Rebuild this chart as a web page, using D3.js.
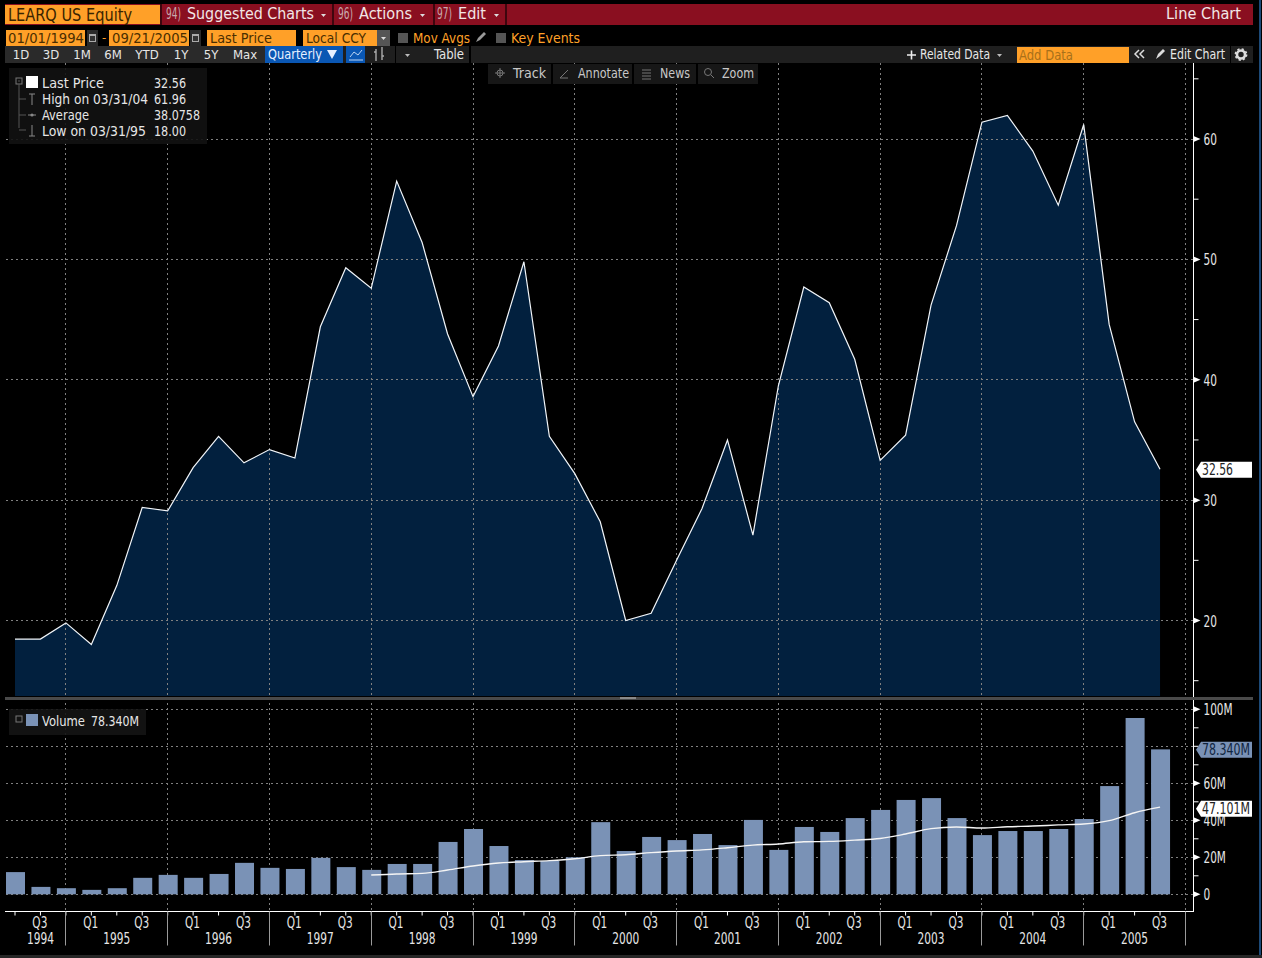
<!DOCTYPE html>
<html><head><meta charset="utf-8">
<script src="https://cdnjs.cloudflare.com/ajax/libs/d3/7.8.5/d3.min.js"></script>
<style>
html,body{margin:0;padding:0;background:#000;overflow:hidden}
svg{display:block}
text{font-family:"Liberation Sans Narrow","DejaVu Sans Condensed","Roboto",sans-serif}
</style></head><body><svg id="c" width="1262" height="958"></svg>
<script>
const quarters = ["1994Q2","1994Q3","1994Q4","1995Q1","1995Q2","1995Q3","1995Q4","1996Q1","1996Q2","1996Q3","1996Q4","1997Q1","1997Q2","1997Q3","1997Q4","1998Q1","1998Q2","1998Q3","1998Q4","1999Q1","1999Q2","1999Q3","1999Q4","2000Q1","2000Q2","2000Q3","2000Q4","2001Q1","2001Q2","2001Q3","2001Q4","2002Q1","2002Q2","2002Q3","2002Q4","2003Q1","2003Q2","2003Q3","2003Q4","2004Q1","2004Q2","2004Q3","2004Q4","2005Q1","2005Q2","2005Q3"];
const axisEndQuarter = "2005Q4";
const priceValues = [18.46,18.46,19.8,18.0,22.9,29.4,29.1,32.7,35.3,33.1,34.2,33.5,44.4,49.3,47.6,56.5,51.4,43.8,38.6,42.8,49.8,35.3,32.2,28.2,20.0,20.6,25.0,29.3,35.0,27.1,39.5,47.7,46.4,41.7,33.3,35.4,46.2,52.8,61.4,61.96,59.0,54.5,61.2,44.6,36.5,32.56];
const volumeValues = [12,4,3.3,2.4,3.3,8.9,10.5,8.9,11,17,14.3,13.7,19.7,14.7,13.2,16.4,16.4,28.3,35.3,26.1,18.5,18,20,39,23.4,31,29.3,32.6,26.6,40.2,24,36.4,33.7,41.2,45.6,51,52,41.2,32,34.2,34.2,35.3,40.7,58.5,95.3,78.34];
const volumeAverage = [null,null,null,null,null,null,null,null,null,null,null,null,null,null,10.4,11,11.3,13.1,15.3,16.9,17.6,18.2,19.2,20.9,21.4,22.5,23.4,24,25.2,26.6,27.2,28.4,28.6,29.3,30.2,32.6,35.5,36.4,35.8,36.5,36.9,37.5,38,39.8,44.1,47.101];
const priceMajorTicks = [20,30,40,50,60];
const priceMinorTicks = [15,25,35,45,55,65];
const volumeMajorTicks = [0,20,40,60,100];
const volumeGridTicks = [0,20,40,60,80,100];
const volumeMinorTicks = [10,30,50,70,80,90];
const years = [1994,1995,1996,1997,1998,1999,2000,2001,2002,2003,2004,2005];

const svg = d3.select("#c");
const COL = {orange:"#ffa028",red:"#8a0f20",grid:"#808080",area:"#02203e",bar:"#7a92b6",white:"#fff",txt:"#e6e6e6",dark:"#1f1f1f"};
function T(g,x,y,s,o={}){const t=g.append("text").attr("x",x).attr("y",y).text(s)
  .attr("fill",o.fill||COL.txt).attr("font-size",o.size||14).attr("text-anchor",o.anchor||"start");
  if(o.w) t.attr("textLength",o.w).attr("lengthAdjust","spacingAndGlyphs");return t;}
function R(g,x,y,w,h,f){return g.append("rect").attr("x",x).attr("y",y).attr("width",w).attr("height",h).attr("fill",f);}
function Tri(g,x,y,f){return g.append("path").attr("d",`M${x},${y}h5l-2.5,3z`).attr("fill",f||"#ccc");}

const x = d3.scalePoint().domain([...quarters,axisEndQuarter]).range([15,1185.5]);
const yP = d3.scaleLinear().domain([20,60]).range([620.5,139]);
const yV = d3.scaleLinear().domain([0,100]).range([894.3,709.3]);
const PANE_BOTTOM = 696;
const rows = quarters.map((q,i)=>({q,p:priceValues[i],v:volumeValues[i],a:volumeAverage[i]}));
const snap = v => Math.floor(v)+.5;

/* price area */
svg.append("path").datum(rows).attr("fill",COL.area)
  .attr("d",d3.area().x(d=>x(d.q)).y0(PANE_BOTTOM).y1(d=>yP(d.p)));

/* grid */
const grid = svg.append("g").attr("stroke",COL.grid).attr("stroke-width",1).attr("stroke-dasharray","2,3");
const yearEnds = [...quarters,axisEndQuarter].filter(q=>q.endsWith("Q4"));
grid.selectAll(".v").data(yearEnds).join("line").attr("x1",d=>snap(x(d))).attr("x2",d=>snap(x(d))).attr("y1",63).attr("y2",911);
grid.selectAll(".hp").data(priceMajorTicks).join("line").attr("x1",6).attr("x2",1193).attr("y1",d=>snap(yP(d))).attr("y2",d=>snap(yP(d)));
grid.selectAll(".hv").data(volumeGridTicks).join("line").attr("x1",6).attr("x2",1193).attr("y1",d=>snap(yV(d))).attr("y2",d=>snap(yV(d)));

/* price line */
svg.append("path").datum(rows).attr("fill","none").attr("stroke","#f2f6fa").attr("stroke-width",1.2)
  .attr("d",d3.line().x(d=>x(d.q)).y(d=>yP(d.p)));

/* volume */
svg.append("g").selectAll("rect").data(rows).join("rect")
  .attr("x",d=>x(d.q)-9).attr("width",19).attr("y",d=>yV(d.v)).attr("height",d=>yV(0)-yV(d.v)).attr("fill",COL.bar);
svg.append("path").datum(rows).attr("fill","none").attr("stroke","#f4f4f4").attr("stroke-width",1.4)
  .attr("d",d3.line().defined(d=>d.a!=null).curve(d3.curveMonotoneX).x(d=>x(d.q)).y(d=>yV(d.a)));

/* separator */
R(svg,5,697,1248,3,"#4a4a4a");
R(svg,620,697,16,2,"#8a8a8a");

/* right axes */
function labelWidth(s){return String(s).split("").reduce((a,c)=>a+(c==="M"?9:6.7),0);}
function rightAxis(scale,major,minor,fmt,y0,y1,dy){
  const g = svg.append("g").attr("transform","translate(1193.5,0)");
  g.append("line").attr("y1",y0).attr("y2",y1).attr("stroke","#fff").attr("stroke-width",1);
  g.selectAll(".m").data(minor).join("line").attr("x2",5).attr("y1",d=>scale(d)).attr("y2",d=>scale(d)).attr("stroke","#fff");
  g.selectAll(".t").data(major).join("path").attr("fill","#fff")
    .attr("d",d=>`M0,${scale(d)-3}L7,${scale(d)}L0,${scale(d)+3}Z`);
  g.selectAll(".l").data(major).join("text").attr("x",10).attr("y",d=>scale(d)+dy)
    .attr("fill",COL.txt).attr("font-size",16).text(fmt)
    .attr("textLength",d=>labelWidth(fmt(d))).attr("lengthAdjust","spacingAndGlyphs");
}
rightAxis(yP,priceMajorTicks,priceMinorTicks,d=>d,63,697,6);
rightAxis(yV,volumeMajorTicks,volumeMinorTicks,d=>d===0?"0":d+"M",700,912,6);

function tag(y,w,label,bg,fg){
  const g=svg.append("g");
  g.append("path").attr("d",`M1196,${y}L1201,${y-8}H1252V${y+8}H1201Z`).attr("fill",bg);
  T(g,1202,y+5,label,{fill:fg,size:15,w});
}
tag(yP(32.56)+.5,31,"32.56","#fff","#222");
tag(yV(78.34)+.5,48,"78.340M",COL.bar,"#10253f");
tag(yV(47.101)+1.5,48,"47.101M","#fff","#222");

/* bottom axis */
const ax = svg.append("g").attr("transform","translate(0,911.5)");
ax.append("line").attr("x1",5).attr("x2",1193).attr("stroke","#fff");
ax.selectAll(".qt").data(quarters).join("line").attr("x1",d=>x(d)).attr("x2",d=>x(d)).attr("y2",4).attr("stroke","#fff");
ax.selectAll(".ys").data(yearEnds).join("line").attr("x1",d=>snap(x(d))).attr("x2",d=>snap(x(d))).attr("y2",34).attr("stroke","#9a9a9a");
const qLabels = quarters.filter(q=>q.endsWith("Q1")||q.endsWith("Q3"));
ax.selectAll(".ql").data(qLabels).join("text").attr("x",d=>x(d)-.6).attr("y",16).attr("text-anchor","middle")
  .attr("fill",COL.txt).attr("font-size",15.5).text(d=>d.slice(4))
  .attr("textLength",15).attr("lengthAdjust","spacingAndGlyphs");
ax.selectAll(".yl").data(years).join("text")
  .attr("x",d=>d===1994?x("1994Q3"):x(d+"Q2")).attr("y",32).attr("text-anchor","middle")
  .attr("fill",COL.txt).attr("font-size",15.5).text(d=>d)
  .attr("textLength",27).attr("lengthAdjust","spacingAndGlyphs");

/* header chrome */
const ui = svg.append("g");
R(ui,5,4,1248,21,COL.red);
R(ui,5,5,155,19,COL.orange);
T(ui,8,21,"LEARQ US Equity",{fill:"#3a2400",size:18,w:124});
[[160,2],[332,2],[433,2],[505,2]].forEach(d=>R(ui,d[0],4,d[1],21,"#000").attr("opacity",.55));
T(ui,166,19,"94)",{fill:"#c9a9ad",size:15,w:15});
T(ui,187,19,"Suggested Charts",{fill:"#f2e6e6",size:16.5,w:127});
Tri(ui,321,14,"#ddd");
T(ui,338,19,"96)",{fill:"#c9a9ad",size:15,w:15});
T(ui,359,19,"Actions",{fill:"#f2e6e6",size:16.5,w:53});
Tri(ui,420,14,"#ddd");
T(ui,437,19,"97)",{fill:"#c9a9ad",size:15,w:15});
T(ui,458,19,"Edit",{fill:"#f2e6e6",size:16.5,w:28});
Tri(ui,494,14,"#ddd");
T(ui,1166,19,"Line Chart",{fill:"#f2e6e6",size:16.5,w:75});

/* second row */
[[6,79,"01/01/1994",8,76],[109,80,"09/21/2005",112,76],[207,89,"Last Price",210,62],[303,74,"Local CCY",306,60]].forEach(d=>{
  R(ui,d[0],30,d[1],16,COL.orange);T(ui,d[3],43,d[2],{fill:"#4a2e00",size:14.5,w:d[4]});});
[[87,11],[190,11]].forEach(d=>{R(ui,d[0],30,d[1],16,"#2b2b2b");R(ui,d[0]+2,34,7,8,"#aaa");R(ui,d[0]+3,36,5,5,"#333");});
T(ui,102,42,"-",{fill:COL.orange,size:13});
R(ui,377,30,13,16,"#555");Tri(ui,381,37,"#ddd");
R(ui,398,33,10,10,"#555");T(ui,413,43,"Mov Avgs",{fill:COL.orange,size:14.5,w:57});
ui.append("path").attr("d","M476,42l2,-4l6,-6l2,2l-6,6z").attr("fill","#999");
R(ui,496,33,10,10,"#555");T(ui,511,43,"Key Events",{fill:COL.orange,size:14.5,w:69});

/* toolbar */
R(ui,5,46,1248,17,COL.dark);
const rangeBtns=[["1D",21],["3D",51],["1M",82],["6M",113],["YTD",147],["1Y",181],["5Y",211],["Max",245]];
R(ui,5,46,260,17,"#2a2a2a");
rangeBtns.forEach(d=>T(ui,d[1],59,d[0],{size:13,anchor:"middle"}));
R(ui,265,46,78,17,"#0a57b4");T(ui,268,59,"Quarterly",{fill:"#e8f0ff",size:13.5,w:54});
ui.append("path").attr("d","M327,50h10l-5,9z").attr("fill","#e8f0ff");
R(ui,346,46,19,17,"#0a57b4");
ui.append("path").attr("d","M350,57l4,-5l4,3l4,-5M349,60h14").attr("fill","none").attr("stroke","#bcd4f2").attr("stroke-width",1);
ui.append("path").attr("d","M376,49v12M374,52h2M382,47v13M382,56h2").attr("stroke","#aaa").attr("stroke-width",1.4).attr("fill","none");
Tri(ui,405,54,"#bbb");
R(ui,395,46,1,17,"#000");
T(ui,434,59,"Table",{size:13.5,w:30});
R(ui,469,46,2,17,"#000");
ui.append("path").attr("d","M907,55h9M911.5,50.5v9").attr("stroke","#eee").attr("stroke-width",1.6);
T(ui,920,59,"Related Data",{size:13.5,w:70});
Tri(ui,997,54,"#bbb");
R(ui,1017,47,112,16,COL.orange);T(ui,1019,60,"Add Data",{fill:"#a8701a",size:14.5,w:54});
ui.append("path").attr("d","M1139,50l-4,4l4,4M1144,50l-4,4l4,4").attr("fill","none").attr("stroke","#ddd").attr("stroke-width",1.5);
ui.append("path").attr("d","M1156,59l2,-5l5,-5l2,2l-5,5z").attr("fill","#ddd");
T(ui,1170,59,"Edit Chart",{size:13.5,w:55});
R(ui,1230,46,1,17,"#000");
ui.append("circle").attr("cx",1241).attr("cy",54.5).attr("r",4).attr("fill","none").attr("stroke","#ddd").attr("stroke-width",2.6);
ui.append("circle").attr("cx",1241).attr("cy",54.5).attr("r",5.6).attr("fill","none").attr("stroke","#ddd").attr("stroke-width",1.6).attr("stroke-dasharray","2.2,2.2");

/* floating buttons */
[[488,63],[553,79],[634,62],[698,60]].forEach(d=>R(ui,d[0],64,d[1],20,"#171717"));
T(ui,513,78,"Track",{fill:"#c8c8c8",size:14,w:33});
T(ui,578,78,"Annotate",{fill:"#c8c8c8",size:14,w:51});
T(ui,660,78,"News",{fill:"#c8c8c8",size:14,w:30});
T(ui,722,78,"Zoom",{fill:"#c8c8c8",size:14,w:32});
ui.append("path").attr("d","M500,68v10M495,73h10").attr("stroke","#777");
ui.append("circle").attr("cx",500).attr("cy",73).attr("r",3).attr("fill","none").attr("stroke","#777");
ui.append("path").attr("d","M560,78l8,-8M560,78h8").attr("stroke","#777");
ui.append("path").attr("d","M642,70h9M642,73h9M642,76h9M642,79h9").attr("stroke","#777");
ui.append("circle").attr("cx",708).attr("cy",72).attr("r",3.5).attr("fill","none").attr("stroke","#777");
ui.append("path").attr("d","M711,75l3,3").attr("stroke","#777");

/* legends */
R(ui,9,68,198,76,"#121212").attr("opacity",.9);
R(ui,16,78,6,6,"none").attr("stroke","#777");
ui.append("path").attr("d","M18,81h2M19,84v44M19,99h7M19,115h7M19,130h7").attr("stroke","#555").attr("fill","none");
R(ui,26,76,12,12,"#fff");
ui.append("path").attr("d","M29,94h6M32,94v11M28,115h8M32,125v11M29,136h6").attr("stroke","#888").attr("fill","none");
ui.append("circle").attr("cx",32).attr("cy",115).attr("r",1.6).attr("fill","#888");
const leg=[["Last Price","32.56",88,62],["High on 03/31/04","61.96",104,106],["Average","38.0758",120,47],["Low on 03/31/95","18.00",136,104]];
leg.forEach(d=>{T(ui,42,d[2],d[0],{size:14.5,w:d[3]});T(ui,154,d[2],d[1],{size:14.5,w:d[1].length>5?46:32});});
R(ui,9,709,137,26,"#141414").attr("opacity",.9);
R(ui,16,716,6,6,"none").attr("stroke","#777");
R(ui,26,714,12,12,COL.bar);
T(ui,42,726,"Volume",{size:14.5,w:43});T(ui,91,726,"78.340M",{size:14.5,w:48});

/* frame */
R(ui,1259,0,2,958,"#1c4a78");
R(ui,0,955,1262,3,"#262626");
</script></body></html>
